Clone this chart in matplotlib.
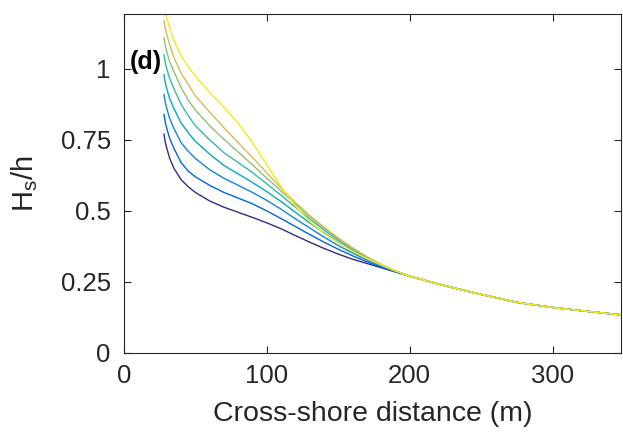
import matplotlib
matplotlib.use("Agg")
import matplotlib.pyplot as plt

# Cross-shore distance (m)
x = [28, 29, 30, 32, 35, 40, 45, 50, 60, 70, 80, 90, 100, 110, 120, 130,
     140, 150, 160, 170, 180, 190, 200, 225, 250, 275, 300, 325, 350]

# Shared offshore tail (x >= 200)
tail = [0.270, 0.236, 0.206, 0.178, 0.160, 0.146, 0.133]

# Hs/h for each run (dark -> yellow)
c1 = [0.77, 0.74, 0.72, 0.685, 0.650, 0.610, 0.585, 0.565, 0.535, 0.513, 0.495, 0.477, 0.458, 0.437, 0.413, 0.390,
      0.368, 0.348, 0.330, 0.315, 0.300, 0.285] + tail
c2 = [0.84, 0.81, 0.79, 0.755, 0.720, 0.670, 0.640, 0.620, 0.590, 0.565, 0.545, 0.525, 0.500, 0.473, 0.445, 0.417,
      0.390, 0.365, 0.342, 0.321, 0.302, 0.286] + tail
c3 = [0.91, 0.88, 0.86, 0.825, 0.790, 0.740, 0.710, 0.685, 0.645, 0.615, 0.590, 0.565, 0.537, 0.506, 0.472, 0.440,
      0.408, 0.378, 0.352, 0.327, 0.305, 0.287] + tail
c4 = [0.98, 0.95, 0.93, 0.895, 0.860, 0.810, 0.775, 0.745, 0.700, 0.660, 0.630, 0.600, 0.568, 0.533, 0.495, 0.458,
      0.423, 0.390, 0.360, 0.333, 0.308, 0.288] + tail
c5 = [1.05, 1.02, 1.00, 0.965, 0.930, 0.875, 0.835, 0.800, 0.750, 0.705, 0.670, 0.635, 0.595, 0.555, 0.513, 0.472,
      0.433, 0.397, 0.365, 0.336, 0.310, 0.289] + tail
c6 = [1.11, 1.08, 1.06, 1.025, 0.990, 0.935, 0.890, 0.855, 0.800, 0.752, 0.707, 0.662, 0.615, 0.570, 0.524, 0.480,
      0.440, 0.402, 0.368, 0.338, 0.311, 0.289] + tail
c7 = [1.17, 1.14, 1.12, 1.085, 1.040, 0.985, 0.945, 0.905, 0.848, 0.793, 0.740, 0.688, 0.634, 0.580, 0.530, 0.484,
      0.443, 0.405, 0.370, 0.339, 0.312, 0.289] + tail
c8 = [1.23, 1.20, 1.18, 1.145, 1.100, 1.045, 1.008, 0.975, 0.917, 0.865, 0.808, 0.740, 0.662, 0.585, 0.517, 0.463,
      0.421, 0.388, 0.358, 0.332, 0.310, 0.289] + tail

series = [c1, c2, c3, c4, c5, c6, c7, c8]
colors = ["#352a87", "#0363e1", "#1485d4", "#06a7c6", "#38b99e", "#92bf73", "#d9ba56", "#f2ea1a"]

xticks = [0, 100, 200, 300]
yticks = [0, 0.25, 0.5, 0.75, 1]
yticklabels = ["0", "0.25", "0.5", "0.75", "1"]

plt.rcParams['font.family'] = ['Liberation Sans', 'DejaVu Sans']
fig = plt.figure(figsize=(6.23, 4.33), dpi=100)
ax = fig.add_axes([0.199, 0.185, 0.798, 0.783])

for s, c in zip(series, colors):
    ax.plot(x, s, color=c, lw=1.0)

ax.set_xlim(0, 348)
ax.set_ylim(0, 1.194)
ax.set_xticks(xticks)
ax.set_yticks(yticks)
ax.set_yticklabels(yticklabels)
ax.tick_params(direction='in', top=True, right=True, length=5, width=0.8,
               labelsize=18.5, colors='#262626', pad=8)
ax.tick_params(axis='y', pad=9.5)
for sp in ax.spines.values():
    sp.set_color('#262626')
    sp.set_linewidth(0.8)

ax.set_xlabel('Cross-shore distance (m)', fontsize=20.5, color='#262626', labelpad=9)
ax.set_ylabel(r'H$_\mathregular{s}$/h', fontsize=21, color='#262626', labelpad=15)
ax.text(4, 1.025, '(d)', fontsize=18, fontweight='bold', va='center', ha='left', color='black')

fig.savefig('out.png', dpi=100)
